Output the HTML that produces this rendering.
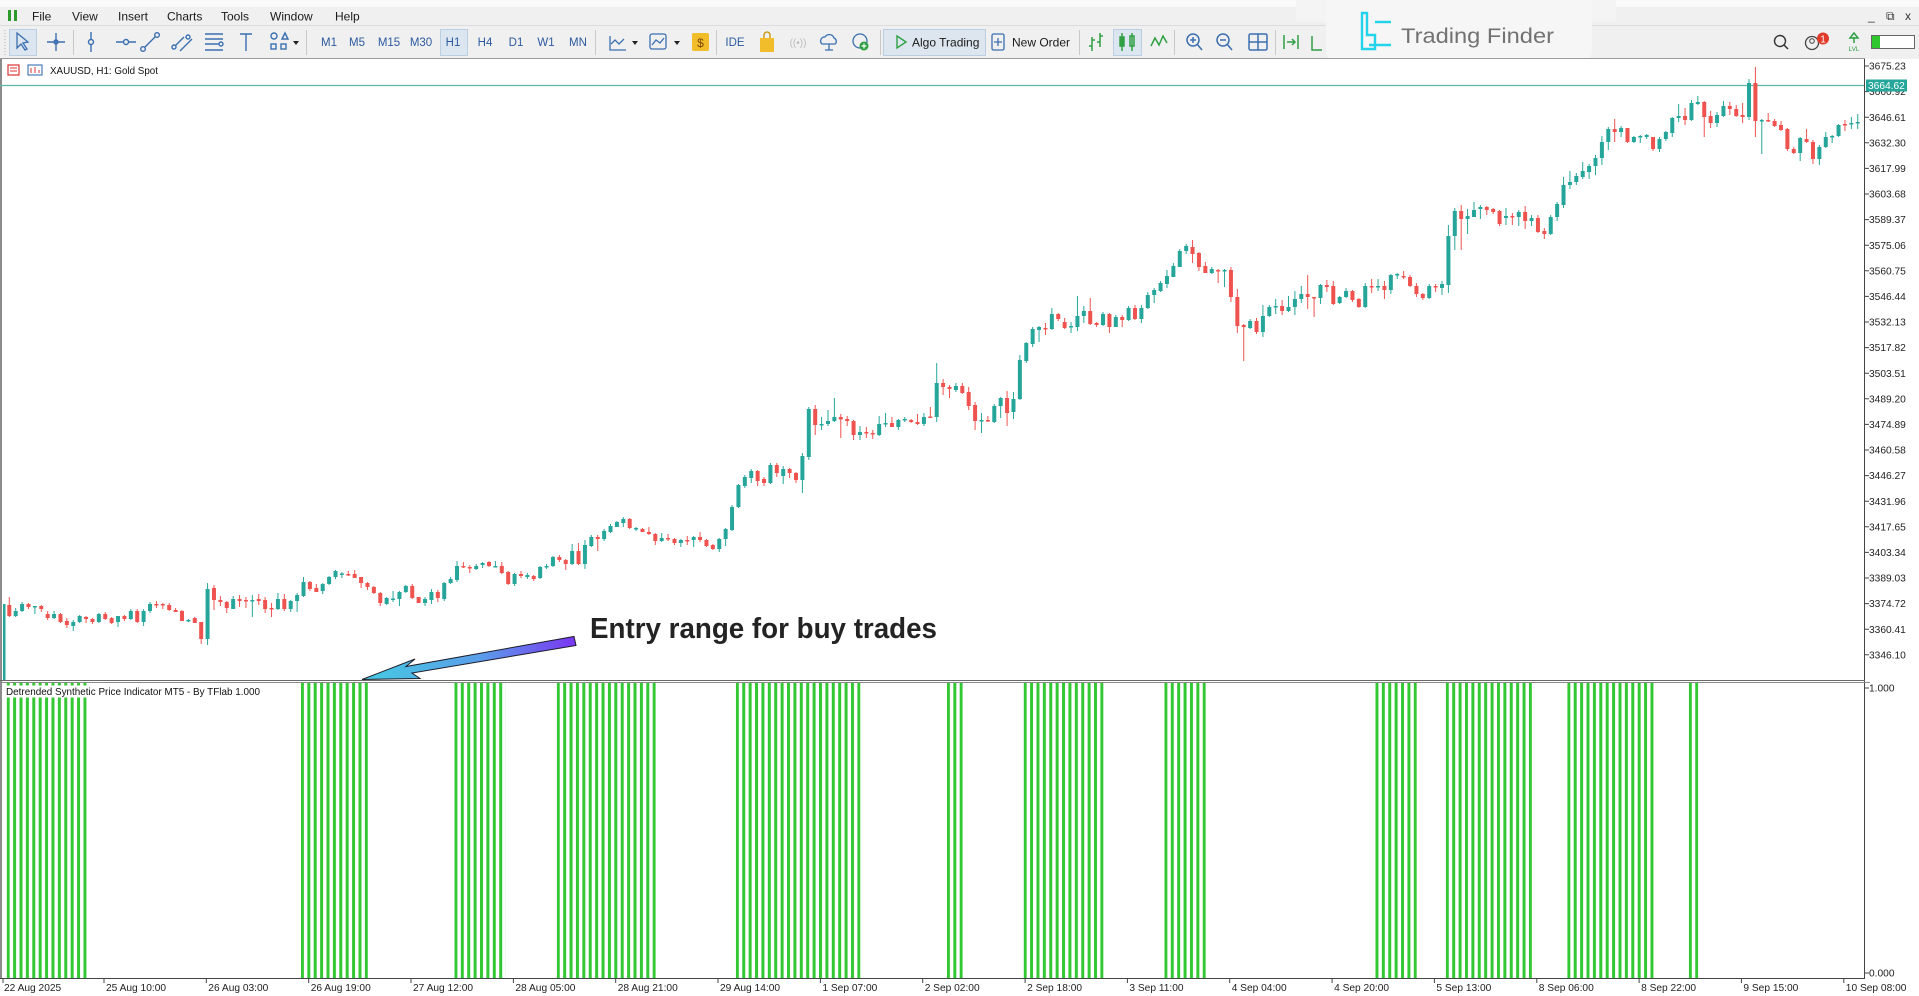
<!DOCTYPE html>
<html><head><meta charset="utf-8"><style>
html,body{margin:0;padding:0;background:#fff;width:1919px;height:996px;overflow:hidden}
svg{display:block}
text{font-family:"Liberation Sans",sans-serif}
</style></head><body>
<svg width="1919" height="996" viewBox="0 0 1919 996" xmlns="http://www.w3.org/2000/svg">
<defs>
<pattern id="gb" patternUnits="userSpaceOnUse" x="6.7" y="0" width="6.396" height="1000"><rect x="0" y="0" width="3" height="1000" fill="#33c833"/></pattern>
<linearGradient id="ag" x1="362" y1="0" x2="576" y2="0" gradientUnits="userSpaceOnUse"><stop offset="0" stop-color="#45cbe2"/><stop offset="0.55" stop-color="#5a9ee9"/><stop offset="1" stop-color="#7a35f2"/></linearGradient>
</defs>
<!-- top chrome -->
<rect x="0" y="0" width="1919" height="59" fill="#f0f0f0"/>
<rect x="0" y="0" width="1919" height="7" fill="#fafafa"/>
<line x1="0" y1="25.5" x2="1919" y2="25.5" stroke="#dcdcdc"/>
<!-- menu -->
<g fill="#2b9a2b"><rect x="8" y="10" width="3" height="11"/><rect x="14" y="10" width="3" height="11"/></g>
<g font-size="12" fill="#1a1a1a">
<text x="32" y="20.5">File</text><text x="72" y="20.5">View</text><text x="118" y="20.5">Insert</text><text x="167" y="20.5">Charts</text><text x="221" y="20.5">Tools</text><text x="270" y="20.5">Window</text><text x="335" y="20.5">Help</text>
</g>
<g font-size="12" fill="#333"><text x="1868" y="20">_</text><text x="1886" y="20">⧉</text><text x="1905" y="20">x</text></g>
<!-- toolbar -->
<line x1="5" y1="30" x2="5" y2="55" stroke="#b0b0b0" stroke-dasharray="1 2"/>
<rect x="9.5" y="29.5" width="27" height="26" fill="#dce6f0" stroke="#bccfe2"/>
<path d="M17 33 L17 48 L21 44 L25 50 L27 49 L23 43 L28 42 Z" fill="none" stroke="#3a6fb0" stroke-width="1.3"/>
<g stroke="#3a6fb0" stroke-width="1.4" fill="none">
<path d="M56 33V51M47 42H65"/><circle cx="56" cy="42" r="2"/>
<path d="M91 32V52"/><circle cx="91" cy="42" r="2.5" fill="#f0f0f0"/>
<path d="M116 42H136"/><circle cx="126" cy="42" r="2.5" fill="#f0f0f0"/>
<path d="M141 51L159 33"/><circle cx="143" cy="49" r="2.3" fill="#f0f0f0"/><circle cx="157" cy="35" r="2.3" fill="#f0f0f0"/>
<path d="M172 49L184 37M180 51L192 39"/><circle cx="174" cy="47" r="2" fill="#f0f0f0"/><circle cx="188" cy="37" r="2" fill="#f0f0f0"/>
<path d="M205 34H223M205 39H223M205 44H219M205 50H223"/><circle cx="221" cy="44" r="2" fill="#f0f0f0"/>
<path d="M240 34H252M246 34V51"/>
<circle cx="274" cy="36" r="3"/><path d="M282 39L285 33L288 39Z"/><rect x="271" y="44" width="5" height="5"/><rect x="281" y="44" width="5" height="5"/>
</g>
<path d="M293 41h6l-3 4z" fill="#222"/>
<line x1="73.5" y1="30" x2="73.5" y2="55" stroke="#c8c8c8"/>
<line x1="306.5" y1="30" x2="306.5" y2="55" stroke="#c8c8c8"/>
<rect x="440.5" y="29.5" width="27" height="26" fill="#dce6f0" stroke="#bccfe2"/>
<g font-size="11.5" fill="#2d5aa0" text-anchor="middle">
<text x="329" y="46">M1</text><text x="357" y="46">M5</text><text x="389" y="46">M15</text><text x="421" y="46">M30</text><text x="453" y="46">H1</text><text x="485" y="46">H4</text><text x="516" y="46">D1</text><text x="546" y="46">W1</text><text x="578" y="46">MN</text>
<text x="735" y="46">IDE</text>
</g>
<line x1="595.5" y1="30" x2="595.5" y2="55" stroke="#c8c8c8"/>
<g fill="none" stroke="#3a6fb0" stroke-width="1.3">
<path d="M610 36V50H626"/><path d="M611 44L615 40L619 44L624 39"/>
<rect x="650" y="34" width="16" height="15" rx="2"/><path d="M652 45L656 40L660 43L664 38"/>
</g>
<path d="M632 41h6l-3 4z M674 41h6l-3 4z" fill="#222"/>
<rect x="692" y="33" width="17" height="18" rx="2" fill="#f2bd2a"/><text x="700.5" y="47" font-size="12" text-anchor="middle" fill="#7a4a00">$</text>
<line x1="716.5" y1="30" x2="716.5" y2="55" stroke="#c8c8c8"/>
<path d="M760 38h14v14h-14z" fill="#f2bd2a"/><path d="M764 38v-3a3 3 0 0 1 6 0v3" fill="none" stroke="#c89000" stroke-width="1.3"/>
<text x="798" y="46" font-size="10" fill="#bbb" text-anchor="middle">((•))</text>
<path d="M822 44a4 4 0 0 1 3-7a5 5 0 0 1 9 1a3.5 3.5 0 0 1 1 6zM829 44v6M825 50h8" fill="none" stroke="#3a6fb0" stroke-width="1.3"/>
<circle cx="860" cy="41" r="7" fill="none" stroke="#3a6fb0" stroke-width="1.3"/><circle cx="864" cy="46" r="4.5" fill="#2ea043"/><path d="M864 43.5v5M861.5 46h5" stroke="#fff" stroke-width="1.2"/>
<line x1="880.5" y1="30" x2="880.5" y2="55" stroke="#c8c8c8"/>
<rect x="883.5" y="29.5" width="102" height="26" fill="#dde6ef" stroke="#bccfe2"/>
<path d="M897 36L906 42L897 48Z" fill="none" stroke="#2ea043" stroke-width="1.4"/>
<text x="912" y="46.5" font-size="12" fill="#1a1a1a">Algo Trading</text>
<rect x="992" y="34" width="12" height="16" rx="1.5" fill="none" stroke="#3a6fb0" stroke-width="1.3"/><path d="M998 38v8M994 42h8" stroke="#3a6fb0" stroke-width="1.3"/>
<text x="1012" y="46.5" font-size="12" fill="#1a1a1a">New Order</text>
<line x1="1079.5" y1="30" x2="1079.5" y2="55" stroke="#c8c8c8"/>
<g stroke="#2ea043" stroke-width="1.5" fill="none">
<path d="M1092 37V51M1089 46h3M1092 40h3M1100 33V47M1097 42h3M1100 36h3"/>
</g>
<rect x="1113.5" y="29.5" width="28" height="26" fill="#dce6f0" stroke="#bccfe2"/>
<g fill="none" stroke="#2ea043" stroke-width="1.5"><path d="M1122 33v18M1132 33v18"/><rect x="1120" y="37" width="4" height="9" fill="#2ea043"/><rect x="1130" y="36" width="4" height="10"/></g>
<path d="M1151 46L1155 38L1159 45L1163 36L1167 43" fill="none" stroke="#2ea043" stroke-width="1.5"/>
<line x1="1174.5" y1="30" x2="1174.5" y2="55" stroke="#c8c8c8"/>
<g fill="none" stroke="#3a6fb0" stroke-width="1.5">
<circle cx="1193" cy="40" r="6"/><path d="M1197 44l5 6M1190 40h6M1193 37v6"/>
<circle cx="1223" cy="40" r="6"/><path d="M1227 44l5 6M1220 40h6"/>
<rect x="1249" y="34" width="18" height="16" rx="1.5"/><path d="M1258 34v16M1249 42h18"/>
</g>
<line x1="1275.5" y1="30" x2="1275.5" y2="55" stroke="#c8c8c8"/>
<g stroke="#2ea043" stroke-width="1.5" fill="none"><path d="M1284 35v14M1298 35v14M1287 42h8M1292 39l3 3l-3 3"/></g>
<path d="M1312 36v14h10" fill="none" stroke="#2ea043" stroke-width="1.5"/>
<!-- right toolbar -->
<circle cx="1780" cy="41" r="5.5" fill="none" stroke="#333" stroke-width="1.4"/><path d="M1784 45l4 4" stroke="#333" stroke-width="1.5"/>
<circle cx="1812" cy="43" r="6.5" fill="none" stroke="#444" stroke-width="1.3"/><circle cx="1812" cy="41" r="2.3" fill="none" stroke="#444"/>
<circle cx="1823" cy="38.5" r="6" fill="#e03a2a"/><text x="1823" y="42.5" font-size="10" fill="#fff" text-anchor="middle">1</text>
<path d="M1854 33l-4 5h8zM1854 37v6" fill="none" stroke="#2ea043" stroke-width="1.5"/><text x="1854" y="51" font-size="6.5" fill="#2ea043" text-anchor="middle">LVL</text>
<rect x="1871.5" y="35.5" width="43" height="13" fill="#fff" stroke="#666"/><rect x="1872" y="36" width="8" height="12" fill="#2ec82e"/>
<!-- logo card -->
<rect x="1296" y="0" width="320" height="22" fill="#f4f4f4"/>
<rect x="1326" y="-20" width="266" height="86" rx="16" fill="#f6f6f6"/>
<g fill="none" stroke="#22d3ea" stroke-width="2.4">
<path d="M1362 13h5v22h8v14h-13z"/><path d="M1375 22h16"/><path d="M1369 45h22"/>
</g>
<text x="1401" y="43" font-size="21" fill="#727272" textLength="153" lengthAdjust="spacingAndGlyphs">Trading Finder</text>
<!-- chart area -->
<rect x="0" y="59" width="1919" height="937" fill="#fff"/>
<line x1="0" y1="58.5" x2="1865" y2="58.5" stroke="#9a9a9a"/>
<rect x="0" y="59" width="2" height="920" fill="#8c8c8c"/>
<!-- symbol label -->
<rect x="8" y="65" width="11" height="10" fill="none" stroke="#d33" stroke-width="1.2"/><path d="M10 68h7M10 71h7" stroke="#d33"/>
<rect x="28" y="65" width="14" height="10" fill="none" stroke="#3a6fb0" stroke-width="1.1"/><path d="M31 73v-5M35 73v-6M39 73v-3" stroke="#d33"/>
<text x="50" y="74" font-size="10" fill="#111" textLength="108" lengthAdjust="spacingAndGlyphs">XAUUSD, H1:  Gold Spot</text>
<!-- current price line -->
<line x1="0" y1="85.5" x2="1865" y2="85.5" stroke="#5fb7a6" stroke-width="1.2"/>
<!-- left teal line -->
<rect x="3" y="604" width="2.5" height="76" fill="#26a69a"/>
<!-- candles -->
<g transform="translate(9.3 0) scale(6.396 1)" fill="none" stroke-linecap="butt">
<path vector-effect="non-scaling-stroke" stroke="#26a69a" stroke-width="1" d="M1 608V617M2 602V612M4 606V614M7 611V619M10 620V631M11 615V623M14 613V623M17 616V627M19 609V620M21 609V626M22 602V613M28 619V622M31 583V645M35 596V609M38 595V617M42 593V610M44 600V612M45 593V612M46 577V597M49 583V594M50 576V585M51 570V579M52 572V578M59 597V605M60 591V602M61 591V606M62 585V593M65 597V606M66 589V604M68 582V601M69 577V584M70 561V582M73 564V570M74 562V568M76 561V567M79 573V586M81 573V579M83 566V579M84 564V569M85 556V567M88 544V565M90 540V569M91 535V547M93 529V541M94 524V533M95 521V527M96 517V527M98 527V531M102 533V542M105 539V547M107 536V547M111 538V552M112 528V546M113 505V531M114 484V508M115 475V488M116 469V483M119 463V484M121 466V484M124 453V493M125 407V460M127 417V430M128 410V426M129 398V422M133 426V440M136 416V436M137 413V427M139 419V430M140 417V422M143 413V426M145 363V422M148 383V392M152 413V433M154 404V423M155 397V418M157 392V419M158 355V400M159 342V363M160 327V347M161 326V342M163 308V330M166 322V333M167 296V331M168 306V323M171 312V326M173 315V327M175 306V321M177 305V323M178 292V309M179 288V303M180 281V292M181 270V288M182 263V277M183 249V267M184 244V254M188 267V274M190 269V287M194 319V329M196 305V337M197 305V317M198 299V314M200 296V312M201 291V315M202 286V303M205 284V304M208 296V304M209 288V298M212 283V308M214 279V291M216 274V294M217 273V279M222 284V299M224 281V295M225 225V293M226 208V250M228 209V234M229 202V217M230 205V219M234 208V225M236 210V226M238 215V226M241 215V235M242 202V221M243 177V208M244 171V189M245 173V185M246 162V179M247 164V179M248 155V175M249 136V165M250 127V150M252 126V137M254 136V143M255 135V143M256 134V139M258 137V152M259 131V141M260 117V137M261 104V122M263 100V121M264 96V105M267 112V127M268 101V117M272 79V120M274 119V154M280 137V161M283 145V165M284 132V148M285 135V143M286 124V137M288 117V129M289 114V129"/>
<path vector-effect="non-scaling-stroke" stroke="#ef5350" stroke-width="1" d="M0 597V617M3 603V609M5 605V612M6 611V620M8 613V623M9 618V628M12 616V623M13 618V624M15 612V620M16 617V624M18 615V621M20 609V623M23 601V608M24 603V609M25 603V611M26 608V612M27 610V621M29 617V623M30 622V644M32 585V610M33 596V606M34 601V613M36 595V607M37 597V608M39 594V605M40 597V613M41 603V617M43 594V611M47 581V591M48 584V592M53 571V576M54 570V578M55 577V588M56 582V590M57 586V594M58 592V606M63 584V599M64 597V603M67 590V602M71 562V568M72 565V573M75 561V567M77 562V574M78 571V585M80 571V578M82 575V581M86 555V562M87 559V570M89 543V565M92 535V551M97 518V529M99 528V532M100 527V535M101 533V545M103 534V541M104 538V545M106 536V545M108 532V542M109 539V547M110 544V550M117 470V486M118 477V486M120 463V477M122 468V478M123 472V483M126 405V435M130 414V438M131 416V426M132 420V440M134 427V438M135 430V439M138 417V427M141 419V423M142 414V425M144 407V418M146 379V395M147 385V398M149 383V394M150 387V410M151 402V430M153 416V422M156 391V426M162 323V335M164 313V321M165 318V329M169 298V325M170 322V327M172 313V333M174 315V327M176 305V320M185 240V263M186 252V271M187 262V273M189 269V283M191 267V302M192 289V333M193 324V361M195 318V334M199 300V315M203 275V309M204 297V317M206 280V292M207 281V305M210 290V302M211 298V308M213 279V293M215 281V299M218 271V279M219 275V287M220 283V297M221 293V300M223 284V292M227 205V250M231 206V215M232 208V214M233 210V226M235 213V225M237 206V229M239 215V233M240 228V239M251 119V142M253 128V143M257 137V151M262 108V125M265 101V137M266 111V128M269 102V115M270 105V117M271 103V123M273 67V137M275 113V122M276 119V127M277 121V131M278 128V151M279 147V154M281 129V143M282 140V164M287 120V131"/>
<path vector-effect="non-scaling-stroke" stroke="#26a69a" stroke-width="4" d="M1 611V616M2 604V611M4 606V607.5M7 614V618M10 622V626M11 616V622M14 614V622M17 616V622M19 611V619M21 611V622M22 604V611M28 620V621.5M31 589V639M35 599V609M38 600V601.5M42 599V609M44 601V609M45 595V601M46 582V596M49 584V591M50 577V584M51 571V577M52 573.5V575M59 598V604M60 598.5V600M61 592V599M62 586V592M65 599V603M66 592V600M68 583V599M69 579V583M70 566V580M73 566V569M74 563V565M76 566V567.5M79 574V584M81 575V577M83 567V578M84 566V567.5M85 557V566M88 551V564M90 545V564M91 537V546M93 531V539M94 526V532M95 522V527M96 519V523M98 528V529.5M102 538V541M105 540V543M107 537V540M111 539V549M112 529V539M113 507V530M114 485V507M115 477V486M116 471V478M119 465V483M121 469V476M124 456V480M125 409V457M127 424V425.5M128 421V424M129 417V421M133 432V435M136 424V435M137 423V424.5M139 420V427M140 419V420.5M143 417V424M145 383V417M148 386V390M152 420V421.5M154 406V422M155 398V406M157 399V412M158 360V399M159 343V361M160 329V344M161 327V330M163 314V329M166 326V327.5M167 316V327M168 311V316M171 314V325M173 317V327M175 308V320M177 308V319M178 295V308M179 290V295M180 283V291M181 276V284M182 266V277M183 251V267M184 246V251M188 269V273M190 270V271.5M194 321V328M196 316V332M197 307V316M198 306V307.5M200 307V311M201 299V307M202 294V299M205 285V298M208 297V303M209 291V297M212 286V307M214 286V287.5M216 275V290M217 274V275.5M222 286V298M224 284V288M225 236V285M226 211V236M228 216V219M229 210V217M230 207V209M234 216V218M236 212V217M238 218V221M241 217V234M242 204V217M243 185V205M244 182V185M245 176V182M246 171V177M247 166V172M248 158V166M249 142V158M250 129V142M252 128V132M254 137V142M255 136V137.5M256 135V137M258 139V149M259 132V139M260 118V133M261 116V118M263 103V120M264 102V104M267 115V123M268 106V116M272 83V117M274 120V121.5M280 138V153M283 147V159M284 137V147M285 136V137.5M286 125V136M288 123V124.5M289 122V123.5"/>
<path vector-effect="non-scaling-stroke" stroke="#ef5350" stroke-width="4" d="M0 605V616M3 604V607M5 606V609M6 614V618M8 614V622M9 621V625M12 617V619M13 619V622M15 614V619M16 618V623M18 616V619M20 611V622M23 604V605.5M24 604V605.5M25 605V610M26 610V612M27 611V621M29 618V623M30 622V639M32 588V600M33 600V602M34 602V608M36 599V601M37 600V601.5M39 599V601M40 600V609M41 608V609.5M43 599V609M47 582V589M48 588V592M53 574V575.5M54 574V578M55 577V583M56 583V587M57 587V593M58 593V603M63 586V598M64 597V603M67 592V598M71 566V567.5M72 567V568.5M75 562V566M77 566V573M78 572V584M80 574V576M82 576V579M86 557V560M87 560V564M89 551V564M92 537V539M97 519V528M99 529V532M100 532V534M101 534V541M103 538V539.5M104 539V543M106 540V541.5M108 537V540M109 540V546M110 545V549M117 471V481M118 479V483M120 465V473M122 469V473M123 473V480M126 409V425M130 417V419.5M131 419V421M132 421V435M134 432V433.5M135 433V434.5M138 423V427M141 420V422M142 422V424M144 416.5V418M146 383V387M147 387V389M149 386V393M150 392V406M151 405V421M153 420V421.5M156 398V413M162 328V329.5M164 314V319M165 322V328M169 311V324M170 323V325M172 314V327M174 317V320M176 308V319M185 247V254M186 253V267M187 266V273M189 270V271.5M191 270V297M192 297V326M193 325V327M195 321V332M199 306V311M203 294V297M204 297V298.5M206 285V287M207 286V304M210 291V300M211 299V307M213 286V287.5M215 286V290M218 276V277.5M219 277V286M220 286V294M221 294V298M223 286V287.5M227 211V219M231 207V210M232 209V212M233 211V224M235 216V217.5M237 212V221M239 218V232M240 231V234M251 129V132M253 128V142M257 137V149M262 116V120M265 102V117M266 116V123M269 106V109M270 109V116M271 115V117M273 83V121M275 120V121.5M276 121V126M277 125V130M278 129V149M279 149V153M281 139V142M282 142V159M287 124V125.5"/>
</g>
<!-- price axis -->
<line x1="1864.5" y1="59" x2="1864.5" y2="979" stroke="#444"/>
<g stroke="#444"><path d="M1865 66h4M1865 91.6h4M1865 117.2h4M1865 142.8h4M1865 168.4h4M1865 194h4M1865 219.6h4M1865 245.2h4M1865 270.8h4M1865 296.4h4M1865 322h4M1865 347.6h4M1865 373.2h4M1865 398.8h4M1865 424.4h4M1865 450h4M1865 475.6h4M1865 501.2h4M1865 526.8h4M1865 552.4h4M1865 578h4M1865 603.6h4M1865 629.2h4M1865 654.8h4M1865 688h4M1865 973h4"/></g>
<g font-size="10.2" fill="#222">
<text x="1869" y="69.6">3675.23</text><text x="1869" y="95.2">3660.92</text><text x="1869" y="120.8">3646.61</text><text x="1869" y="146.4">3632.30</text><text x="1869" y="172">3617.99</text><text x="1869" y="197.6">3603.68</text><text x="1869" y="223.2">3589.37</text><text x="1869" y="248.8">3575.06</text><text x="1869" y="274.4">3560.75</text><text x="1869" y="300">3546.44</text><text x="1869" y="325.6">3532.13</text><text x="1869" y="351.2">3517.82</text><text x="1869" y="376.8">3503.51</text><text x="1869" y="402.4">3489.20</text><text x="1869" y="428">3474.89</text><text x="1869" y="453.6">3460.58</text><text x="1869" y="479.2">3446.27</text><text x="1869" y="504.8">3431.96</text><text x="1869" y="530.4">3417.65</text><text x="1869" y="556">3403.34</text><text x="1869" y="581.6">3389.03</text><text x="1869" y="607.2">3374.72</text><text x="1869" y="632.8">3360.41</text><text x="1869" y="658.4">3346.10</text>
<text x="1869" y="691.6">1.000</text><text x="1869" y="976.6">0.000</text>
</g>
<rect x="1866" y="79.5" width="41" height="12" fill="#26a69a"/>
<text x="1868" y="89.2" font-size="10.2" fill="#fff">3664.62</text>
<!-- separator -->
<line x1="0" y1="680.5" x2="1865" y2="680.5" stroke="#6a6a6a"/>
<line x1="0" y1="682.5" x2="1870" y2="682.5" stroke="#8a8a8a"/>
<!-- indicator bars -->
<g fill="url(#gb)">
<rect x="6.7" y="683" width="79.8" height="295"/>
<rect x="300.9" y="683" width="67" height="295"/>
<rect x="454.4" y="683" width="51.2" height="295"/>
<rect x="556.8" y="683" width="98.9" height="295"/>
<rect x="735.8" y="683" width="124.6" height="295"/>
<rect x="946.9" y="683" width="15.8" height="295"/>
<rect x="1023.7" y="683" width="79.7" height="295"/>
<rect x="1164.4" y="683" width="41.4" height="295"/>
<rect x="1375.4" y="683" width="41.4" height="295"/>
<rect x="1445.8" y="683" width="86.1" height="295"/>
<rect x="1567.3" y="683" width="86.2" height="295"/>
<rect x="1688.8" y="683" width="9.4" height="295"/>
</g>
<rect x="5" y="685.5" width="256" height="12" fill="#fff"/>
<text x="6" y="695" font-size="10.5" fill="#111" textLength="254" lengthAdjust="spacingAndGlyphs">Detrended Synthetic Price Indicator MT5 - By TFlab 1.000</text>
<!-- time axis -->
<line x1="0" y1="978.5" x2="1865" y2="978.5" stroke="#444"/>
<g stroke="#444"><path d="M3 979v4M104 979v4M206.3 979v4M308.7 979v4M411 979v4M513.4 979v4M615.7 979v4M718 979v4M820.4 979v4M922.7 979v4M1025.1 979v4M1127.4 979v4M1229.7 979v4M1332.1 979v4M1434.4 979v4M1536.8 979v4M1639.1 979v4M1741.4 979v4M1843.8 979v4"/></g>
<g font-size="10.2" fill="#222">
<text x="4" y="991">22 Aug 2025</text>
<text x="106" y="991">25 Aug 10:00</text><text x="208.3" y="991">26 Aug 03:00</text><text x="310.7" y="991">26 Aug 19:00</text><text x="413" y="991">27 Aug 12:00</text><text x="515.4" y="991">28 Aug 05:00</text><text x="617.7" y="991">28 Aug 21:00</text><text x="720" y="991">29 Aug 14:00</text><text x="822.4" y="991">1 Sep 07:00</text><text x="924.7" y="991">2 Sep 02:00</text><text x="1027.1" y="991">2 Sep 18:00</text><text x="1129.4" y="991">3 Sep 11:00</text><text x="1231.7" y="991">4 Sep 04:00</text><text x="1334.1" y="991">4 Sep 20:00</text><text x="1436.4" y="991">5 Sep 13:00</text><text x="1538.8" y="991">8 Sep 06:00</text><text x="1641.1" y="991">8 Sep 22:00</text><text x="1743.4" y="991">9 Sep 15:00</text><text x="1845.8" y="991">10 Sep 08:00</text>
</g>
<!-- annotation -->
<path d="M362 679.5 L415 659 L406 666.5 L574 636.5 L576 645.5 L412 673 L420 678.5 Z" fill="url(#ag)" stroke="#1c1c2a" stroke-width="1" stroke-linejoin="miter"/>
<text x="590" y="638" font-size="29" font-weight="bold" fill="#232323" textLength="347" lengthAdjust="spacingAndGlyphs">Entry range for buy trades</text>
</svg>
</body></html>
